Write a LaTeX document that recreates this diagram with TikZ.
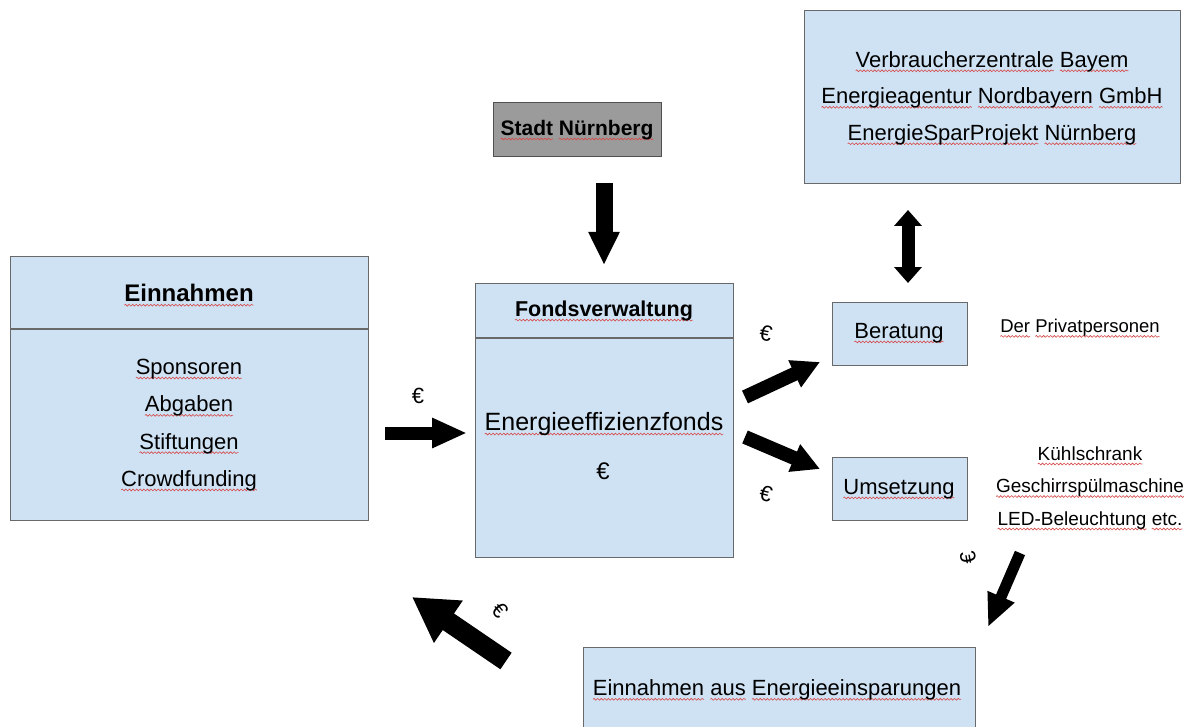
\documentclass[tikz,border=0pt]{standalone}
\usepackage{fontspec}
\setmainfont{Liberation Sans}
\usetikzlibrary{arrows.meta,decorations.pathmorphing}

\definecolor{boxfill}{RGB}{207,226,243}
\definecolor{boxline}{RGB}{105,105,105}
\definecolor{cityfill}{RGB}{155,155,155}
\definecolor{cityline}{RGB}{80,80,80}
\definecolor{squig}{RGB}{214,72,72}

% wavy red underline below a single word
\newdimen\sqwd
\newcommand\sq[1]{\settowidth\sqwd{#1}\leavevmode\rlap{\begin{tikzpicture}[x=1pt,y=1pt,baseline=0pt]
  \path (0,0);
  \draw[overlay, draw=squig, line width=0.6pt, decorate,
        decoration={snake,amplitude=0.9pt,segment length=3.6pt}] (0,-3.6) -- (\sqwd,-3.6);
  \end{tikzpicture}}#1}

\tikzset{
  box/.style={draw=boxline, fill=boxfill, line width=1.3pt, inner sep=0pt, anchor=north west},
  citybox/.style={draw=cityline, fill=cityfill, line width=1.3pt, inner sep=0pt, anchor=north west},
  divider/.style={draw=boxline, line width=1.3pt},
  txt/.style={inner sep=0pt, align=center, font=\fontsize{22}{37.3}\selectfont},
  boldtxt/.style={inner sep=0pt, align=center, font=\fontsize{#1}{26}\selectfont\bfseries},
  small/.style={inner sep=0pt, align=center, font=\fontsize{19}{32.5}\selectfont},
  euro/.style={inner sep=0pt, font=\fontsize{22}{26}\selectfont},
  fat/.style n args={3}{line width=#1pt, line cap=butt, -{Triangle[width=#2pt,length=#3pt]}},
  fatboth/.style n args={3}{line width=#1pt, line cap=butt,
    {Triangle[width=#2pt,length=#3pt]}-{Triangle[width=#2pt,length=#3pt]}},
}

\begin{document}
\begin{tikzpicture}[x=1pt,y=-1pt]
\clip (0,0) rectangle (1190,727);
\fill[white] (0,0) rectangle (1190,727);

% ---- boxes ----
\node[box, minimum width=358pt, minimum height=264pt] (einbox) at (10,256) {};
\node[box, minimum width=258pt, minimum height=274pt] (fondsbox) at (475,283) {};
\node[citybox, minimum width=168pt, minimum height=54pt] (citybox) at (493,102) {};
\node[box, minimum width=376pt, minimum height=173pt] (partners) at (804,10) {};
\node[box, minimum width=135pt, minimum height=63pt] (beratbox) at (832,302) {};
\node[box, minimum width=135pt, minimum height=63pt] (umsbox) at (832,457) {};
\node[box, minimum width=392pt, minimum height=110pt] (savebox) at (583,647) {};

% header dividers
\coordinate (eindiv) at (0,329);
\coordinate (fondsdiv) at (0,338);
\draw[divider] (einbox.west |- eindiv) -- (einbox.east |- eindiv);
\draw[divider] (fondsbox.west |- fondsdiv) -- (fondsbox.east |- fondsdiv);

% ---- texts ----
\node[boldtxt=24] (einhead) at (189,293) {\sq{Einnahmen}};
\node[txt] (einlist) at (189,425) {\sq{Sponsoren}\\ \sq{Abgaben}\\ \sq{Stiftungen}\\ \sq{Crowdfunding}};

\node[boldtxt=21.5] (fondshead) at (604,311) {\sq{Fondsverwaltung}};
\node[inner sep=0pt, font=\fontsize{25}{30}\selectfont] (fund) at (604,424) {\sq{Energieeffizienzfonds}};
\node[inner sep=0pt, font=\fontsize{24}{28}\selectfont] (fundeuro) at (603,471) {€};

\node[boldtxt=21] (city) at (577,130) {\sq{Stadt} \sq{Nürnberg}};

\node[inner sep=0pt, align=center, font=\fontsize{22}{36.5}\selectfont] (partnerlist) at (992,98)
  {\sq{Verbraucherzentrale} \sq{Bayem}\\ \sq{Energieagentur} \sq{Nordbayern} \sq{GmbH}\\ \sq{EnergieSparProjekt} \sq{Nürnberg}};

\node[txt] (berat) at (899,333) {\sq{Beratung}};
\node[txt] (ums) at (899,489) {\sq{Umsetzung}};
\node[inner sep=0pt, font=\fontsize{18.5}{22}\selectfont] (private) at (1080,328) {\sq{Der} \sq{Privatpersonen}};
\node[small] (devices) at (1090,488) {\sq{Kühlschrank}\\ \sq{Geschirrspülmaschine}\\ \sq{LED-Beleuchtung} \sq{etc.}};

\node[txt] (savings) at (777,690) {\sq{Einnahmen} \sq{aus} \sq{Energieeinsparungen}};

% ---- euro signs along the money flow ----
\node[euro] (e1) at (418,396) {€};
\node[euro, rotate=-12] (e2) at (766,333) {€};
\node[euro, rotate=-15] (e3) at (766,494) {€};
\node[euro, rotate=100] (e4) at (968,558) {€};
\node[euro, rotate=-50] (e5) at (500,610) {€};

% ---- arrow end points ----
\coordinate (cityS) at (604,183);   \coordinate (cityT) at (604,265);
\coordinate (inS) at (385,433);     \coordinate (inT) at (467,433);
\coordinate (upS) at (745,397);     \coordinate (upT) at (820,362);
\coordinate (dnS) at (745,437);     \coordinate (dnT) at (820,469);
\coordinate (infoA) at (908,210);   \coordinate (infoB) at (908,283);
\coordinate (useS) at (1020,553);   \coordinate (useT) at (988,627);
\coordinate (backS) at (506,661);   \coordinate (backT) at (412,597);

% ---- block arrows ----
\draw[fat={17}{29}{33}] (cityS) -- (cityT);
\draw[fat={13}{28}{35}] (inS) -- (inT);
\draw[fat={14}{28}{28}] (upS) -- (upT);
\draw[fat={14}{28}{28}] (dnS) -- (dnT);
\draw[fatboth={13}{27}{16}] (infoA) -- (infoB);
\draw[fat={11}{27}{33}] (useS) -- (useT);
\draw[fat={20}{48}{44}] (backS) -- (backT);
\end{tikzpicture}
\end{document}
